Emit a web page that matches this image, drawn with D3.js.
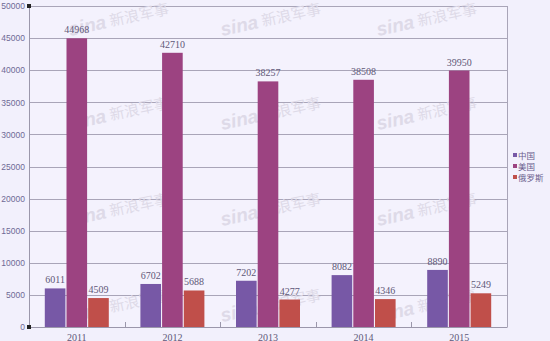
<!DOCTYPE html>
<html>
<head>
<meta charset="utf-8">
<script src="https://cdn.jsdelivr.net/npm/d3@7"></script>
<style>
  body { margin: 0; background: #f2f0fc; }
  svg { display: block; }
</style>
</head>
<body>
<svg id="chart"></svg>
<script>
var years = ["2011", "2012", "2013", "2014", "2015"];
var seriesNames = ["中国", "美国", "俄罗斯"];
var china = [6011, 6702, 7202, 8082, 8890];
var usa = [44968, 42710, 38257, 38508, 39950];
var russia = [4509, 5688, 4277, 4346, 5249];
var yTicks = [0, 5000, 10000, 15000, 20000, 25000, 30000, 35000, 40000, 45000, 50000];
var colors = ["#7758a6", "#9c4381", "#c04f4a"];

var W = 550, H = 341;
var margin = { top: 6, right: 43, bottom: 14, left: 29 },
  width = W - margin.left - margin.right,
  height = H - margin.top - margin.bottom;

const svg = d3.select("#chart").attr("width", W).attr("height", H);

svg.append("rect").attr("width", W).attr("height", H).attr("fill", "#f2f0fc");

const g = svg.append("g")
  .attr("transform", `translate(${margin.left}, ${margin.top})`);

const x = d3.scaleBand().domain(years).range([0, width]);
const xSub = d3.scaleBand().domain(seriesNames).range([0, 64]).paddingInner(0.05);
const y = d3.scaleLinear().domain([0, 50000]).range([height, 0]);

// plot background
g.append("rect")
  .attr("width", width).attr("height", height)
  .attr("fill", "#f4f2fd");

// gridlines
g.append("g")
  .selectAll("line")
  .data(yTicks.slice(1))
  .join("line")
  .attr("x1", 0).attr("x2", width)
  .attr("y1", d => Math.round(y(d)) + 0.5)
  .attr("y2", d => Math.round(y(d)) + 0.5)
  .attr("stroke", "#a9a5b8")
  .attr("stroke-width", 1);

// right border
g.append("line")
  .attr("x1", width + 0.5).attr("x2", width + 0.5)
  .attr("y1", 0).attr("y2", height)
  .attr("stroke", "#a9a5b8");

// watermarks
var wmX = [70, 222, 378];
var wmY = [36, 130, 226, 322];
wmY.forEach(function (wy) {
  wmX.forEach(function (wx) {
    var wm = g.append("g")
      .attr("transform", `translate(${wx - margin.left}, ${wy - margin.top}) rotate(-12)`)
      .attr("fill", "#dedae8");
    wm.append("text")
      .attr("x", 0).attr("y", 0)
      .attr("font-family", "Liberation Sans, sans-serif")
      .attr("font-weight", "bold")
      .attr("font-style", "italic")
      .attr("font-size", "19px")
      .text("sina");
    wm.append("text")
      .attr("x", 42).attr("y", -1)
      .attr("font-family", "Noto Sans CJK SC, sans-serif")
      .attr("font-size", "15px")
      .text("新浪军事");
  });
});

// y axis
const yAxis = g.append("g")
  .call(d3.axisLeft(y).tickValues(yTicks).tickSize(0).tickPadding(4).tickFormat(d3.format("d")));
yAxis.select(".domain").attr("stroke", "#9b97ab");
yAxis.selectAll("text")
  .attr("font-family", "Liberation Sans, sans-serif")
  .attr("font-size", "8.5px")
  .attr("fill", "#6f6a96");

// x axis
const xAxis = g.append("g")
  .attr("transform", `translate(0, ${height})`)
  .call(d3.axisBottom(x).tickSize(0).tickPadding(7));
xAxis.select(".domain").attr("stroke", "#9b97ab");
xAxis.selectAll("text")
  .attr("font-family", "Liberation Serif, serif")
  .attr("font-size", "10px")
  .attr("fill", "#5f5878");

// category separator ticks
g.append("g")
  .selectAll("line")
  .data(years.slice(1))
  .join("line")
  .attr("x1", d => Math.round(x(d)) + 0.5)
  .attr("x2", d => Math.round(x(d)) + 0.5)
  .attr("y1", height - 5).attr("y2", height)
  .attr("stroke", "#9b97ab");

// bars
var seriesData = [china, usa, russia];
var barData = [];
years.forEach(function (yr, i) {
  seriesNames.forEach(function (s, j) {
    barData.push({ year: yr, key: s, value: seriesData[j][i], idx: j });
  });
});
var off = (x.bandwidth() - 64) / 2;

g.append("g")
  .selectAll("rect")
  .data(barData)
  .join("rect")
  .attr("x", d => x(d.year) + off + xSub(d.key))
  .attr("y", d => y(d.value))
  .attr("width", xSub.bandwidth())
  .attr("height", d => height - y(d.value))
  .attr("fill", d => colors[d.idx]);

g.append("g")
  .selectAll("text")
  .data(barData)
  .join("text")
  .attr("x", d => x(d.year) + off + xSub(d.key) + xSub.bandwidth() / 2)
  .attr("y", d => y(d.value) - 5)
  .attr("text-anchor", "middle")
  .attr("font-family", "Liberation Serif, serif")
  .attr("font-size", "10px")
  .attr("fill", "#5f5878")
  .text(d => d.value);

// axis end markers
[0, height].forEach(function (py) {
  g.append("rect")
    .attr("x", -2).attr("y", py - 2)
    .attr("width", 4).attr("height", 4)
    .attr("fill", "#222");
});

// legend
const legend = svg.append("g")
  .attr("transform", "translate(513, 153)");
legend.selectAll("rect")
  .data(seriesNames)
  .join("rect")
  .attr("x", 0)
  .attr("y", (d, i) => i * 11)
  .attr("width", 4).attr("height", 4)
  .attr("fill", (d, i) => colors[i]);
legend.selectAll("text")
  .data(seriesNames)
  .join("text")
  .attr("x", 5)
  .attr("y", (d, i) => i * 11 + 6)
  .attr("font-family", "Noto Sans CJK SC, sans-serif")
  .attr("font-size", "8.5px")
  .attr("fill", "#6a5f8e")
  .text(d => d);
</script>
</body>
</html>
